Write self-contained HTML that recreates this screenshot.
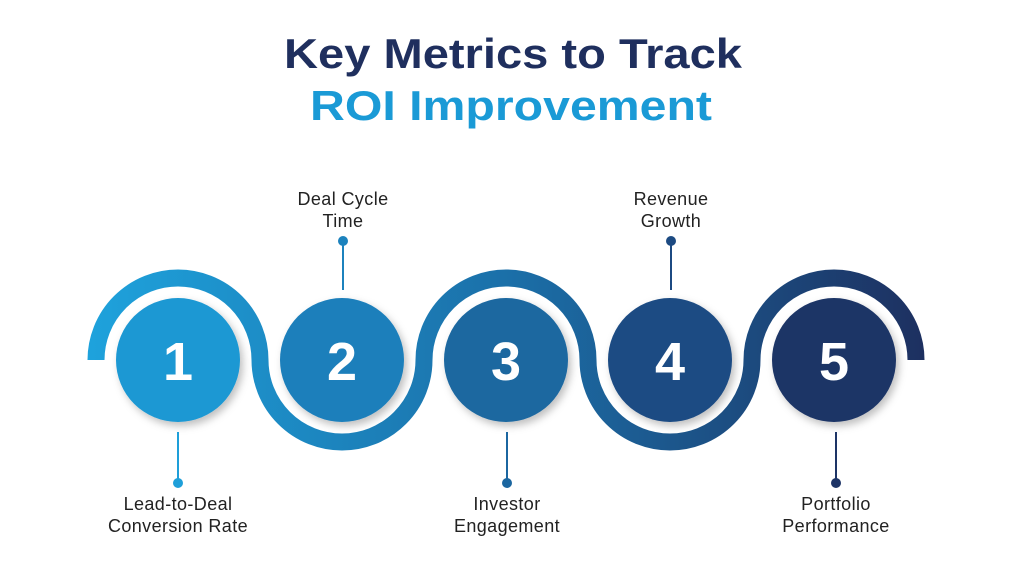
<!DOCTYPE html>
<html><head><meta charset="utf-8"><style>
html,body{margin:0;padding:0;background:#fff;}
svg{display:block;}
</style></head><body>
<svg width="1024" height="576" viewBox="0 0 1024 576" xmlns="http://www.w3.org/2000/svg">
<defs>
<linearGradient id="g" x1="90" y1="0" x2="930" y2="0" gradientUnits="userSpaceOnUse">
<stop offset="0" stop-color="#1ea2dc"/><stop offset="0.5" stop-color="#1b6fa8"/><stop offset="1" stop-color="#1d2f5f"/>
</linearGradient>
<filter id="sh" x="-30%" y="-30%" width="160%" height="160%"><feDropShadow dx="3" dy="4" stdDeviation="4" flood-color="#000" flood-opacity="0.25"/></filter>
</defs>
<text x="513" y="68" text-anchor="middle" font-family="Liberation Sans, sans-serif" font-weight="bold" font-size="42" fill="#1f2f5e" textLength="458" lengthAdjust="spacingAndGlyphs">Key Metrics to Track</text>
<text x="511" y="120" text-anchor="middle" font-family="Liberation Sans, sans-serif" font-weight="bold" font-size="42" fill="#1a9ad6" textLength="402" lengthAdjust="spacingAndGlyphs">ROI Improvement</text>
<path d="M96 360 A82 82 0 0 1 260 360 A82 82 0 0 0 424 360 A82 82 0 0 1 588 360 A82 82 0 0 0 752 360 A82 82 0 0 1 916 360" fill="none" stroke="url(#g)" stroke-width="17"/>
<g filter="url(#sh)">
<circle cx="178" cy="360" r="62" fill="#1d98d3"/>
<circle cx="342" cy="360" r="62" fill="#1c7fbb"/>
<circle cx="506" cy="360" r="62" fill="#1b67a0"/>
<circle cx="670" cy="360" r="62" fill="#1c4b83"/>
<circle cx="834" cy="360" r="62" fill="#1d3466"/>
</g>
<g font-family="Liberation Sans, sans-serif" font-weight="bold" font-size="54" fill="#fff" text-anchor="middle">
<text x="178" y="380">1</text><text x="342" y="380">2</text><text x="506" y="380">3</text><text x="670" y="380">4</text><text x="834" y="380">5</text>
</g>
<g stroke-width="2">
<line x1="178" y1="432" x2="178" y2="483" stroke="#1e9fd9"/><circle cx="178" cy="483" r="5" fill="#1e9fd9"/>
<line x1="343" y1="241" x2="343" y2="290" stroke="#1c82bd"/><circle cx="343" cy="241" r="5" fill="#1c82bd"/>
<line x1="507" y1="432" x2="507" y2="483" stroke="#1b66a0"/><circle cx="507" cy="483" r="5" fill="#1b66a0"/>
<line x1="671" y1="241" x2="671" y2="290" stroke="#1c4a82"/><circle cx="671" cy="241" r="5" fill="#1c4a82"/>
<line x1="836" y1="432" x2="836" y2="483" stroke="#1d3466"/><circle cx="836" cy="483" r="5" fill="#1d3466"/>
</g>
<g font-family="Liberation Sans, sans-serif" font-size="18" fill="#222" text-anchor="middle" letter-spacing="0.4">
<text x="343" y="205">Deal Cycle</text><text x="343" y="227">Time</text>
<text x="671" y="205">Revenue</text><text x="671" y="227">Growth</text>
<text x="178" y="510">Lead-to-Deal</text><text x="178" y="532">Conversion Rate</text>
<text x="507" y="510">Investor</text><text x="507" y="532">Engagement</text>
<text x="836" y="510">Portfolio</text><text x="836" y="532">Performance</text>
</g>
</svg>
</body></html>
